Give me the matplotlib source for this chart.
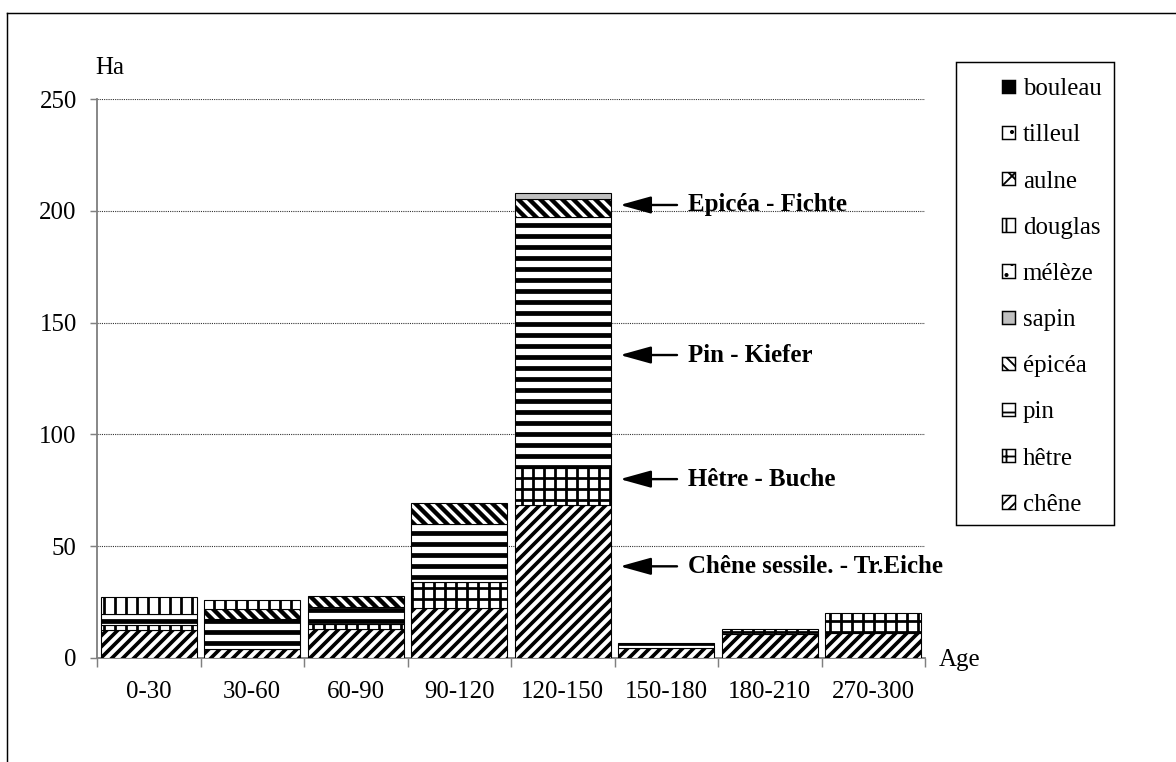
import matplotlib
matplotlib.use("Agg")
import matplotlib.pyplot as plt
from matplotlib.patches import Rectangle, Patch
from matplotlib.lines import Line2D
import numpy as np

plt.rcParams['font.family'] = ['Liberation Serif', 'DejaVu Serif']

categories = ['0-30', '30-60', '60-90', '90-120', '120-150', '150-180', '180-210', '270-300']
chene   = [12.5, 4.0, 12.8, 22.2, 68.4, 4.3, 10.7, 11.3]
hetre   = [2.2, 0.0, 2.3, 12.0, 16.4, 0.0, 2.1, 8.7]
pin     = [5.2, 13.4, 7.8, 25.7, 112.6, 2.2, 0.0, 0.0]
epicea  = [0.0, 4.5, 4.8, 9.6, 7.7, 0.0, 0.0, 0.0]
sapin   = [0.0, 0.0, 0.0, 0.0, 2.7, 0.0, 0.0, 0.0]
meleze  = [0.0, 0.0, 0.0, 0.0, 0.0, 0.0, 0.0, 0.0]
douglas = [7.5, 4.2, 0.0, 0.0, 0.0, 0.0, 0.0, 0.0]
aulne   = [0.0, 0.0, 0.0, 0.0, 0.0, 0.0, 0.0, 0.0]
tilleul = [0.0, 0.0, 0.0, 0.0, 0.0, 0.0, 0.0, 0.0]
bouleau = [0.0, 0.0, 0.0, 0.0, 0.0, 0.0, 0.0, 0.0]

series_names = ['chêne', 'hêtre', 'pin', 'épicéa', 'sapin', 'mélèze', 'douglas', 'aulne', 'tilleul', 'bouleau']
series_values = [chene, hetre, pin, epicea, sapin, meleze, douglas, aulne, tilleul, bouleau]
yticks = [0, 50, 100, 150, 200, 250]

annotations = [('Epicéa - Fichte', 202.6), ('Pin - Kiefer', 135.5),
               ('Hêtre - Buche', 80.0), ('Chêne sessile. - Tr.Eiche', 41.0)]

# styles: (facecolor, hatch, hatch linewidth in pt)
styles = {
    'chêne':   ('white', '////', 2.0),
    'hêtre':   ('white', '++', 1.5),
    'pin':     ('white', '--', 2.6),
    'épicéa':  ('white', '\\\\\\\\', 2.4),
    'sapin':   ('#c0c0c0', '', 1.0),
    'mélèze':  ('white', '..', 1.0),
    'douglas': ('white', '||', 1.5),
    'aulne':   ('white', 'xx', 1.0),
    'tilleul': ('white', '..', 0.8),
    'bouleau': ('black', '', 1.0),
}

DPI = 132
fig = plt.figure(figsize=(1176 / DPI, 762 / DPI), dpi=DPI)
ax = fig.add_axes([97 / 1176, 1 - 658 / 762, (925 - 97) / 1176, (658 - 99) / 762])

x = np.arange(len(categories))
bottom = np.zeros(len(categories))
handles = []
FS = 13.6
for name, vals in zip(series_names, series_values):
    fc, hatch, hlw = styles[name]
    plt.rcParams['hatch.linewidth'] = hlw
    vals = np.array(vals, dtype=float)
    bars = ax.bar(x, vals, width=0.93, bottom=bottom, color=fc, hatch=hatch,
                  edgecolor='black', linewidth=0.6, zorder=3)
    for p, v in zip(bars.patches, vals):
        if hasattr(p, 'set_hatch_linewidth'):
            p.set_hatch_linewidth(hlw)
        if v == 0:
            p.set_visible(False)
    h = Patch(facecolor=fc, hatch=hatch, edgecolor='black', linewidth=0.8, label=name)
    if hasattr(h, 'set_hatch_linewidth'):
        h.set_hatch_linewidth(min(hlw, 1.6))
    handles.append(h)
    bottom += vals

ax.set_xlim(-0.5, len(categories) - 0.5)
ax.set_ylim(0, 250)
ax.set_yticks(yticks)
ax.set_yticklabels([str(t) for t in yticks], fontsize=FS)
ax.set_xticks(x)
ax.set_xticklabels(categories, fontsize=FS)
ax.set_xticks(np.arange(len(categories) + 1) - 0.5, minor=True)
ax.tick_params(axis='x', which='major', length=0, pad=12.5)
ax.tick_params(axis='x', which='minor', length=5, width=0.8, color='#808080', direction='out')
ax.tick_params(axis='y', length=4, width=0.8, color='#808080', direction='out', pad=7)
ax.yaxis.grid(True, linestyle=(0, (1, 1)), color='#333333', linewidth=0.6, zorder=0)
ax.set_axisbelow(True)
for s in ['top', 'right']:
    ax.spines[s].set_visible(False)
for s in ['left', 'bottom']:
    ax.spines[s].set_color('#808080')
    ax.spines[s].set_linewidth(1.0)

# axis titles
fig.text(95 / 1176, 1 - 68 / 762, 'Ha', fontsize=FS, ha='left', va='center')
fig.text(939 / 1176, 1 - 660 / 762, 'Age', fontsize=FS, ha='left', va='center')

# annotations
for txt, yv in annotations:
    ax.annotate('', xy=(4.553, yv), xytext=(5.104, yv),
                arrowprops=dict(arrowstyle='-|>,head_length=0.9,head_width=0.25', color='black', lw=1.3,
                                mutation_scale=16, shrinkA=0, shrinkB=0),
                annotation_clip=False, zorder=5)
    ax.text(5.21, yv, txt, fontsize=FS, fontweight='bold', ha='left', va='center',
            clip_on=False, zorder=5)

# legend box
fig.patches.append(Rectangle((956 / 1176, 1 - 525 / 762), (1114 - 956) / 1176, (525 - 62) / 762,
                             transform=fig.transFigure, fill=False, edgecolor='black',
                             linewidth=0.8))
fig.legend(handles=handles[::-1], loc='center',
           bbox_to_anchor=(1051.5 / 1176, 1 - 297 / 762),
           frameon=False, fontsize=FS, handlelength=0.55, handleheight=0.45,
           handletextpad=0.3, labelspacing=0.97, borderpad=0.3)

# figure border
fig.add_artist(Line2D([7 / 1176, 7 / 1176], [0, 1 - 13 / 762], transform=fig.transFigure,
                      color='black', linewidth=0.8))
fig.add_artist(Line2D([7 / 1176, 1], [1 - 13 / 762, 1 - 13 / 762], transform=fig.transFigure,
                      color='black', linewidth=0.8))

fig.savefig('out.png', dpi=DPI)
